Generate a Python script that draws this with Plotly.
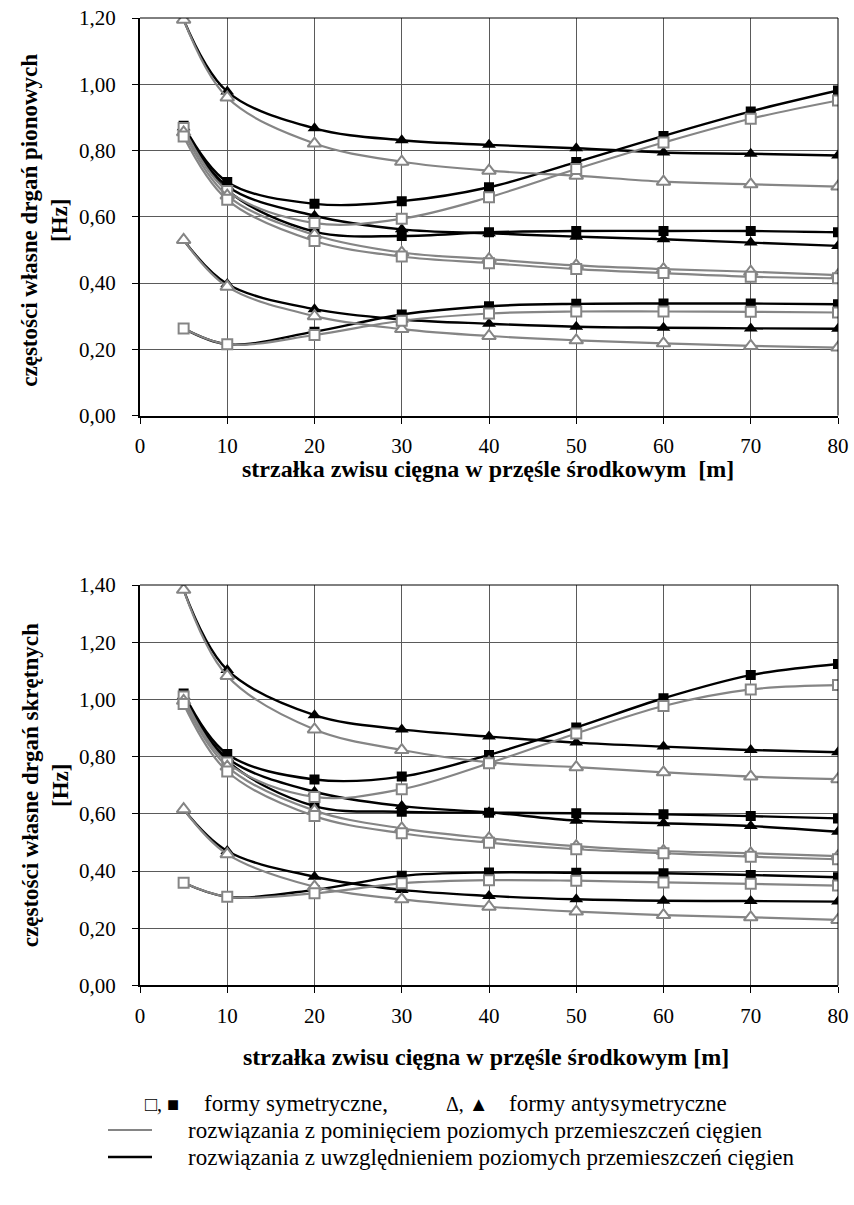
import plotly.graph_objects as go

# Sag of the main-span cable [m]
sag = [5, 10, 20, 30, 40, 50, 60, 70, 80]

# ---- Vertical vibration frequencies [Hz] ----
# "full" = with horizontal cable displacements, "simp" = without them
v_sym_hi_full = [0.875, 0.705, 0.639, 0.647, 0.689, 0.765, 0.844, 0.918, 0.981]
v_sym_hi_simp = [0.868, 0.678, 0.581, 0.594, 0.659, 0.744, 0.824, 0.896, 0.951]
v_asym_hi_full = [1.195, 0.978, 0.867, 0.831, 0.817, 0.807, 0.794, 0.790, 0.785]
v_asym_hi_simp = [1.195, 0.960, 0.821, 0.766, 0.739, 0.724, 0.706, 0.698, 0.691]
v_sym_mid_full = [0.865, 0.680, 0.555, 0.542, 0.553, 0.557, 0.557, 0.557, 0.553]
v_sym_mid_simp = [0.842, 0.651, 0.527, 0.480, 0.460, 0.442, 0.430, 0.419, 0.414]
v_asym_mid_full = [0.870, 0.692, 0.603, 0.562, 0.550, 0.540, 0.532, 0.522, 0.512]
v_asym_mid_simp = [0.855, 0.664, 0.545, 0.492, 0.472, 0.453, 0.442, 0.434, 0.424]
v_asym_lo_full = [0.530, 0.397, 0.321, 0.290, 0.277, 0.268, 0.265, 0.263, 0.262]
v_asym_lo_simp = [0.530, 0.389, 0.300, 0.261, 0.240, 0.227, 0.218, 0.210, 0.205]
v_sym_lo_full = [0.263, 0.215, 0.253, 0.305, 0.330, 0.337, 0.338, 0.338, 0.336]
v_sym_lo_simp = [0.263, 0.215, 0.243, 0.286, 0.308, 0.314, 0.314, 0.313, 0.311]

# ---- Torsional vibration frequencies [Hz] ----
t_asym_hi_full = [1.383, 1.103, 0.945, 0.895, 0.870, 0.849, 0.835, 0.823, 0.815]
t_asym_hi_simp = [1.383, 1.082, 0.895, 0.823, 0.780, 0.763, 0.745, 0.730, 0.721]
t_sym_hi_full = [1.021, 0.809, 0.720, 0.730, 0.806, 0.902, 1.004, 1.085, 1.124]
t_sym_hi_simp = [1.010, 0.779, 0.659, 0.686, 0.777, 0.881, 0.977, 1.035, 1.050]
t_sym_mid_full = [1.005, 0.785, 0.627, 0.607, 0.604, 0.602, 0.598, 0.592, 0.584]
t_sym_mid_simp = [0.984, 0.748, 0.592, 0.532, 0.499, 0.476, 0.462, 0.450, 0.441]
t_asym_mid_full = [1.012, 0.795, 0.677, 0.627, 0.605, 0.576, 0.567, 0.557, 0.537]
t_asym_mid_simp = [0.995, 0.765, 0.611, 0.549, 0.514, 0.487, 0.470, 0.462, 0.452]
t_asym_lo_full = [0.616, 0.470, 0.380, 0.334, 0.313, 0.301, 0.296, 0.295, 0.293]
t_asym_lo_simp = [0.616, 0.459, 0.345, 0.301, 0.275, 0.258, 0.246, 0.238, 0.229]
t_sym_lo_full = [0.359, 0.310, 0.334, 0.383, 0.395, 0.394, 0.392, 0.386, 0.378]
t_sym_lo_simp = [0.359, 0.310, 0.322, 0.357, 0.368, 0.366, 0.360, 0.355, 0.349]

x_ticks = [0, 10, 20, 30, 40, 50, 60, 70, 80]
x_title = "strzałka zwisu cięgna w przęśle środkowym &nbsp;[m]"
x_title2 = "strzałka zwisu cięgna w przęśle środkowym [m]"
y_title_top = ["częstości własne drgań pionowych", "[Hz]"]
y_title_bot = ["częstości własne drgań skrętnych", "[Hz]"]
legend_sym_marks = "□, ■"
legend_sym = "formy symetryczne,"
legend_asym_marks = "Δ, ▲"
legend_asym = "formy antysymetryczne"
legend_simp = "rozwiązania z pominięciem poziomych przemieszczeń cięgien"
legend_full = "rozwiązania z uwzględnieniem poziomych przemieszczeń cięgien"

W, H = 854, 1205
GRAY = "#858585"
BLACK = "#000000"
SERIF = "Liberation Serif"


def px_x(p):
    return p / W


def px_y(p):
    return 1 - p / H


fig = go.Figure()


def add_series(y, sym, full, xa, ya):
    color = BLACK if full else GRAY
    symbol = "square" if sym else "triangle-up"
    size = 10 if sym else 12
    fig.add_trace(go.Scatter(
        x=sag, y=y, xaxis=xa, yaxis=ya, mode="lines+markers",
        line=dict(color=color, width=2.4 if full else 2.2,
                  shape="spline", smoothing=1.0),
        marker=dict(symbol=symbol, size=size,
                    color=BLACK if full else "white",
                    line=dict(color=color, width=0 if full else 2)),
        showlegend=False, hoverinfo="x+y"))


top_sets = [
    (v_asym_hi_full, v_asym_hi_simp, False),
    (v_sym_hi_full, v_sym_hi_simp, True),
    (v_asym_mid_full, v_asym_mid_simp, False),
    (v_sym_mid_full, v_sym_mid_simp, True),
    (v_asym_lo_full, v_asym_lo_simp, False),
    (v_sym_lo_full, v_sym_lo_simp, True),
]
bot_sets = [
    (t_asym_hi_full, t_asym_hi_simp, False),
    (t_sym_hi_full, t_sym_hi_simp, True),
    (t_asym_mid_full, t_asym_mid_simp, False),
    (t_sym_mid_full, t_sym_mid_simp, True),
    (t_asym_lo_full, t_asym_lo_simp, False),
    (t_sym_lo_full, t_sym_lo_simp, True),
]
for sets, xa, ya in ((top_sets, "x", "y"), (bot_sets, "x2", "y2")):
    for full, simp, sym in sets:
        add_series(full, sym, True, xa, ya)
    for full, simp, sym in sets:
        add_series(simp, sym, False, xa, ya)

x_dom = [px_x(140), px_x(838)]
tick_font = dict(family=SERIF, size=21, color="black")
common_x = dict(range=[0, 80], tickvals=x_ticks, showgrid=True,
                gridcolor="#5a5a5a", gridwidth=1, zeroline=False,
                showline=True, linecolor="black", linewidth=2,
                ticks="outside", ticklen=6, tickcolor="black",
                tickfont=tick_font, ticklabelstandoff=4, automargin=False)
common_y = dict(dtick=0.2, tickformat=".2f", showgrid=True,
                gridcolor="#5a5a5a", gridwidth=1, zeroline=False,
                showline=True, linecolor="black", linewidth=2,
                ticks="outside", ticklen=6, tickcolor="black",
                tickfont=tick_font, ticklabelstandoff=12, automargin=False)

top_y0, top_y1 = 415.5, 18
bot_y0, bot_y1 = 985.4, 585

fig.update_layout(
    width=W, height=H, margin=dict(l=0, r=0, t=0, b=0, pad=0),
    paper_bgcolor="white", plot_bgcolor="white",
    separators=", ",
    font=dict(family=SERIF, color="black"),
    xaxis=dict(domain=x_dom, anchor="y", **common_x),
    yaxis=dict(domain=[px_y(top_y0), px_y(top_y1)], anchor="x",
               range=[0, 1.2], **common_y),
    xaxis2=dict(domain=x_dom, anchor="y2", **common_x),
    yaxis2=dict(domain=[px_y(bot_y0), px_y(bot_y1)], anchor="x2",
                range=[0, 1.4], **common_y),
)

# thin frame on the top and right of each plot area
for xr, yr in (("x domain", "y domain"), ("x2 domain", "y2 domain")):
    fig.add_shape(type="line", xref=xr, yref=yr, x0=0, x1=1, y0=1, y1=1,
                  line=dict(color="black", width=1))
    fig.add_shape(type="line", xref=xr, yref=yr, x0=1, x1=1, y0=0, y1=1,
                  line=dict(color="black", width=1))

ann = []


def add_text(text, xp, yp, font, anchor="left", angle=0):
    ann.append(dict(text=text, x=px_x(xp), y=px_y(yp), xref="paper",
                    yref="paper", showarrow=False, font=font,
                    xanchor=anchor, yanchor="middle", textangle=angle))


xt_font = dict(family=SERIF, size=24, color="black")
yt_font = dict(family=SERIF, size=23, color="black")
add_text("<b>%s</b>" % x_title, 488, 469, xt_font, "center")
add_text("<b>%s</b>" % x_title2, 486, 1057, xt_font, "center")
for lines, yc in ((y_title_top, (top_y0 + top_y1) / 2 + 4),
                  (y_title_bot, (bot_y0 + bot_y1) / 2)):
    add_text("<br>".join("<b>%s</b>" % s for s in lines), 45, yc,
             yt_font, "center", -90)

leg_font = dict(family=SERIF, size=23, color="black")
mark_font = dict(family=SERIF, size=20, color="black")
add_text(legend_sym_marks, 143, 1104, mark_font)
add_text(legend_sym, 202, 1103, leg_font)
add_text(legend_asym_marks, 444, 1104, mark_font)
add_text(legend_asym, 507, 1103, leg_font)
add_text(legend_simp, 186, 1130, leg_font)
add_text(legend_full, 186, 1157, leg_font)
fig.update_layout(annotations=ann)

fig.add_shape(type="line", xref="paper", yref="paper",
              x0=px_x(108), x1=px_x(152), y0=px_y(1130), y1=px_y(1130),
              line=dict(color=GRAY, width=2))
fig.add_shape(type="line", xref="paper", yref="paper",
              x0=px_x(108), x1=px_x(152), y0=px_y(1157), y1=px_y(1157),
              line=dict(color=BLACK, width=2.5))

# page without the default body margin, so the figure fills the window
fig.write_html("out.html",
               post_script="document.body.style.margin='0';"
                           "document.body.style.overflow='hidden';")
